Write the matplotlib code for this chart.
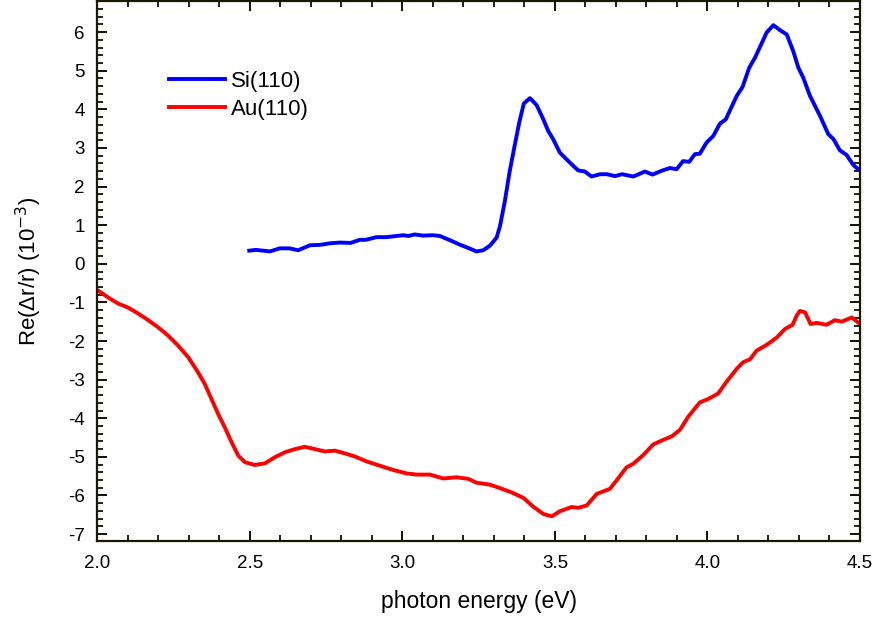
import matplotlib.pyplot as plt
from matplotlib.ticker import MultipleLocator

plt.rcParams['font.family'] = ['Liberation Sans', 'DejaVu Sans']

# Si(110) spectrum
si_energy = [2.498, 2.52, 2.566, 2.598, 2.63, 2.658, 2.697, 2.73, 2.762, 2.795, 2.83, 2.86,
             2.88, 2.915, 2.948, 2.98, 3.003, 3.02, 3.04, 3.068, 3.10, 3.123, 3.156, 3.19,
             3.216, 3.243, 3.265, 3.287, 3.309, 3.32, 3.336, 3.352, 3.369, 3.383, 3.398,
             3.418, 3.44, 3.462, 3.478, 3.494, 3.516, 3.549, 3.576, 3.598, 3.62, 3.648,
             3.67, 3.697, 3.72, 3.757, 3.795, 3.82, 3.85, 3.877, 3.899, 3.92, 3.94, 3.959,
             3.975, 3.997, 4.019, 4.041, 4.06, 4.096, 4.115, 4.137, 4.156, 4.194, 4.216,
             4.238, 4.26, 4.281, 4.298, 4.314, 4.336, 4.369, 4.396, 4.413, 4.434, 4.456,
             4.478, 4.494]
si_signal = [0.34, 0.36, 0.32, 0.40, 0.40, 0.35, 0.48, 0.49, 0.53, 0.55, 0.54, 0.62,
             0.62, 0.69, 0.69, 0.72, 0.74, 0.72, 0.76, 0.73, 0.74, 0.72, 0.61, 0.49,
             0.41, 0.32, 0.35, 0.47, 0.68, 0.98, 1.63, 2.41, 3.10, 3.66, 4.15,
             4.29, 4.11, 3.74, 3.44, 3.23, 2.88, 2.62, 2.42, 2.39, 2.26, 2.32,
             2.32, 2.27, 2.32, 2.26, 2.39, 2.31, 2.41, 2.48, 2.45, 2.66, 2.64, 2.84,
             2.85, 3.14, 3.31, 3.63, 3.74, 4.35, 4.58, 5.08, 5.34, 5.99, 6.18,
             6.05, 5.94, 5.51, 5.08, 4.82, 4.35, 3.83, 3.36, 3.23, 2.94, 2.82,
             2.56, 2.45]

# Au(110) spectrum
au_energy = [2.0, 2.035, 2.068, 2.10, 2.134, 2.167, 2.20, 2.232, 2.265, 2.298, 2.33, 2.352,
             2.374, 2.396, 2.418, 2.44, 2.462, 2.484, 2.516, 2.549, 2.582, 2.615, 2.648,
             2.68, 2.713, 2.746, 2.779, 2.811, 2.844, 2.883, 2.926, 2.97, 3.014, 3.047,
             3.09, 3.134, 3.178, 3.216, 3.243, 3.287, 3.32, 3.358, 3.396, 3.429, 3.462,
             3.49, 3.516, 3.555, 3.576, 3.604, 3.637, 3.68, 3.702, 3.735, 3.757, 3.79,
             3.822, 3.855, 3.883, 3.91, 3.937, 3.975, 4.003, 4.035, 4.063, 4.096, 4.117,
             4.14, 4.161, 4.194, 4.227, 4.254, 4.279, 4.292, 4.303, 4.32, 4.338, 4.358,
             4.39, 4.418, 4.44, 4.473, 4.494]
au_signal = [-0.68, -0.87, -1.03, -1.13, -1.29, -1.46, -1.65, -1.86, -2.12, -2.42, -2.81, -3.11,
             -3.50, -3.89, -4.24, -4.62, -4.97, -5.14, -5.21, -5.17, -5.01, -4.88, -4.80,
             -4.74, -4.80, -4.86, -4.84, -4.91, -4.99, -5.12, -5.23, -5.34, -5.43, -5.46,
             -5.46, -5.56, -5.53, -5.57, -5.67, -5.72, -5.81, -5.92, -6.06, -6.29, -6.48,
             -6.54, -6.41, -6.30, -6.32, -6.26, -5.96, -5.83, -5.61, -5.27, -5.18, -4.95,
             -4.68, -4.56, -4.47, -4.30, -3.96, -3.59, -3.50, -3.36, -3.05, -2.72, -2.55,
             -2.47, -2.25, -2.10, -1.91, -1.69, -1.58, -1.35, -1.22, -1.26, -1.56, -1.53,
             -1.58, -1.46, -1.50, -1.39, -1.52]

fig = plt.figure(figsize=(8.77, 6.19), dpi=100)
ax = fig.add_axes([0.111, 0.126, 0.8696, 0.872])

ax.plot(si_energy, si_signal, color='#0000ff', lw=2.8, label='Si(110)')
ax.plot(au_energy, au_signal, color='#ff0000', lw=2.8, label='Au(110)')

ax.set_xlim(2.0, 4.5)
ax.set_ylim(-7.18, 6.8)
ax.xaxis.set_major_locator(MultipleLocator(0.5))
ax.xaxis.set_minor_locator(MultipleLocator(0.1))
ax.yaxis.set_major_locator(MultipleLocator(1))
ax.yaxis.set_minor_locator(MultipleLocator(0.2))
ax.xaxis.set_major_formatter(plt.FormatStrFormatter('%.1f'))
ax.yaxis.set_major_formatter(plt.FormatStrFormatter('%d'))

ax.tick_params(which='both', direction='in', top=True, right=True, color='#111100',
               labelsize=13.5)
ax.tick_params(which='major', length=7, width=1.4)
ax.tick_params(axis='x', which='major', pad=10)
ax.tick_params(axis='y', which='major', pad=9)
ax.tick_params(which='minor', length=4, width=1.3)
for s in ax.spines.values():
    s.set_linewidth(1.6)
    s.set_color('#1a1a00')

ax.set_xlabel('photon energy (eV)', fontsize=16.5, labelpad=13)
ax.set_ylabel('Re(\u0394r/r) (10$^{-3}$)', fontsize=16, labelpad=17)

ax.legend(loc='upper left', bbox_to_anchor=(0.068, 0.908), frameon=False,
          fontsize=16, handlelength=2.5, handletextpad=0.28, labelspacing=0.32)

fig.savefig('out.png', dpi=100)
